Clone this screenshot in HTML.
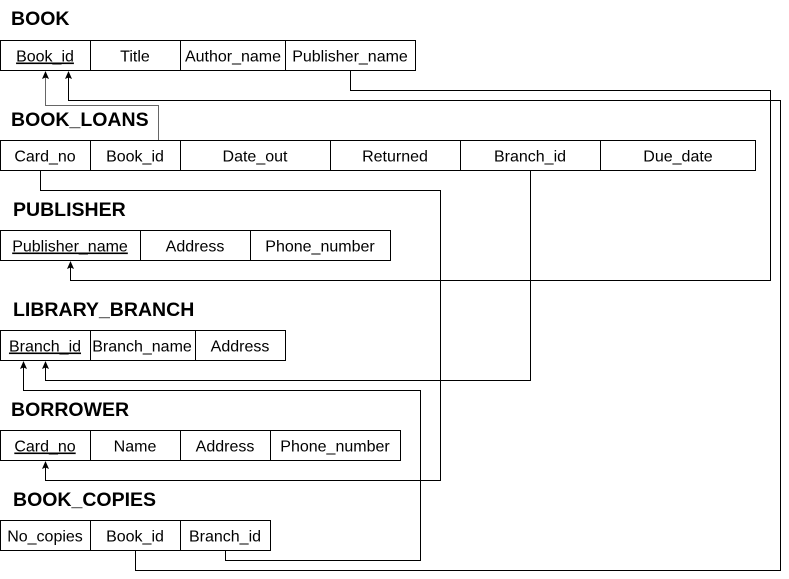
<!DOCTYPE html>
<html><head><meta charset="utf-8"><style>
html,body{margin:0;padding:0;background:#fff;width:789px;height:579px;overflow:hidden}
svg{display:block}
text{font-family:"Liberation Sans",Helvetica,Arial,sans-serif;fill:#000}
.t{font-size:19.5px;font-weight:bold}
.c{font-size:16px;text-anchor:middle}
rect{fill:#fff;stroke:#000;stroke-width:1}
.l{fill:none;stroke:#000;stroke-width:1}
.ah{fill:#000;stroke:none}
</style></head><body>
<svg width="789" height="579" viewBox="0 0 789 579" xmlns="http://www.w3.org/2000/svg">
<polyline class="l" points="158.5,140 158.5,105.5 45.5,105.5 45.5,76" style="stroke:#666"/>
<polyline class="l" points="135.5,550 135.5,570.5 780.5,570.5 780.5,100.5 68.5,100.5 68.5,76"/>
<polyline class="l" points="350.5,70 350.5,90.5 770.5,90.5 770.5,280.5 70.5,280.5 70.5,266"/>
<polyline class="l" points="40.5,170 40.5,190.5 440.5,190.5 440.5,480.5 45.5,480.5 45.5,466"/>
<polyline class="l" points="530.5,170 530.5,380.5 45.5,380.5 45.5,366"/>
<polyline class="l" points="225.5,550 225.5,560.5 420.5,560.5 420.5,390.5 23.5,390.5 23.5,366"/>
<path class="ah" d="M45.5,71 L42,79 L45.5,77.5 L49,79 Z"/>
<path class="ah" d="M68.5,71 L65,79 L68.5,77.5 L72,79 Z"/>
<path class="ah" d="M70.5,261 L67,269 L70.5,267.5 L74,269 Z"/>
<path class="ah" d="M45.5,461 L42,469 L45.5,467.5 L49,469 Z"/>
<path class="ah" d="M45.5,361 L42,369 L45.5,367.5 L49,369 Z"/>
<path class="ah" d="M23.5,361 L20,369 L23.5,367.5 L27,369 Z"/>
<text class="t" x="11" y="25">BOOK</text>
<rect x="0.5" y="40.5" width="90" height="30"/><rect x="90.5" y="40.5" width="90" height="30"/><rect x="180.5" y="40.5" width="105" height="30"/><rect x="285.5" y="40.5" width="130" height="30"/>
<text class="c" x="45" y="61.5" text-decoration="underline">Book_id</text><text class="c" x="135" y="61.5">Title</text><text class="c" x="233" y="61.5">Author_name</text><text class="c" x="350" y="61.5">Publisher_name</text>
<text class="t" x="11" y="126">BOOK_LOANS</text>
<rect x="0.5" y="140.5" width="90" height="30"/><rect x="90.5" y="140.5" width="90" height="30"/><rect x="180.5" y="140.5" width="150" height="30"/><rect x="330.5" y="140.5" width="130" height="30"/><rect x="460.5" y="140.5" width="140" height="30"/><rect x="600.5" y="140.5" width="155" height="30"/>
<text class="c" x="45" y="161.5">Card_no</text><text class="c" x="135" y="161.5">Book_id</text><text class="c" x="255" y="161.5">Date_out</text><text class="c" x="395" y="161.5">Returned</text><text class="c" x="530" y="161.5">Branch_id</text><text class="c" x="678" y="161.5">Due_date</text>
<text class="t" x="13" y="216">PUBLISHER</text>
<rect x="0.5" y="230.5" width="140" height="30"/><rect x="140.5" y="230.5" width="110" height="30"/><rect x="250.5" y="230.5" width="140" height="30"/>
<text class="c" x="70" y="251.5" text-decoration="underline">Publisher_name</text><text class="c" x="195" y="251.5">Address</text><text class="c" x="320" y="251.5">Phone_number</text>
<text class="t" x="13" y="316">LIBRARY_BRANCH</text>
<rect x="0.5" y="330.5" width="90" height="30"/><rect x="90.5" y="330.5" width="105" height="30"/><rect x="195.5" y="330.5" width="90" height="30"/>
<text class="c" x="45" y="351.5" text-decoration="underline">Branch_id</text><text class="c" x="142" y="351.5">Branch_name</text><text class="c" x="240" y="351.5">Address</text>
<text class="t" x="11" y="416">BORROWER</text>
<rect x="0.5" y="430.5" width="90" height="30"/><rect x="90.5" y="430.5" width="90" height="30"/><rect x="180.5" y="430.5" width="90" height="30"/><rect x="270.5" y="430.5" width="130" height="30"/>
<text class="c" x="45" y="451.5" text-decoration="underline">Card_no</text><text class="c" x="135" y="451.5">Name</text><text class="c" x="225" y="451.5">Address</text><text class="c" x="335" y="451.5">Phone_number</text>
<text class="t" x="13" y="506">BOOK_COPIES</text>
<rect x="0.5" y="520.5" width="90" height="30"/><rect x="90.5" y="520.5" width="90" height="30"/><rect x="180.5" y="520.5" width="90" height="30"/>
<text class="c" x="45" y="541.5">No_copies</text><text class="c" x="135" y="541.5">Book_id</text><text class="c" x="225" y="541.5">Branch_id</text>
</svg>
</body></html>
